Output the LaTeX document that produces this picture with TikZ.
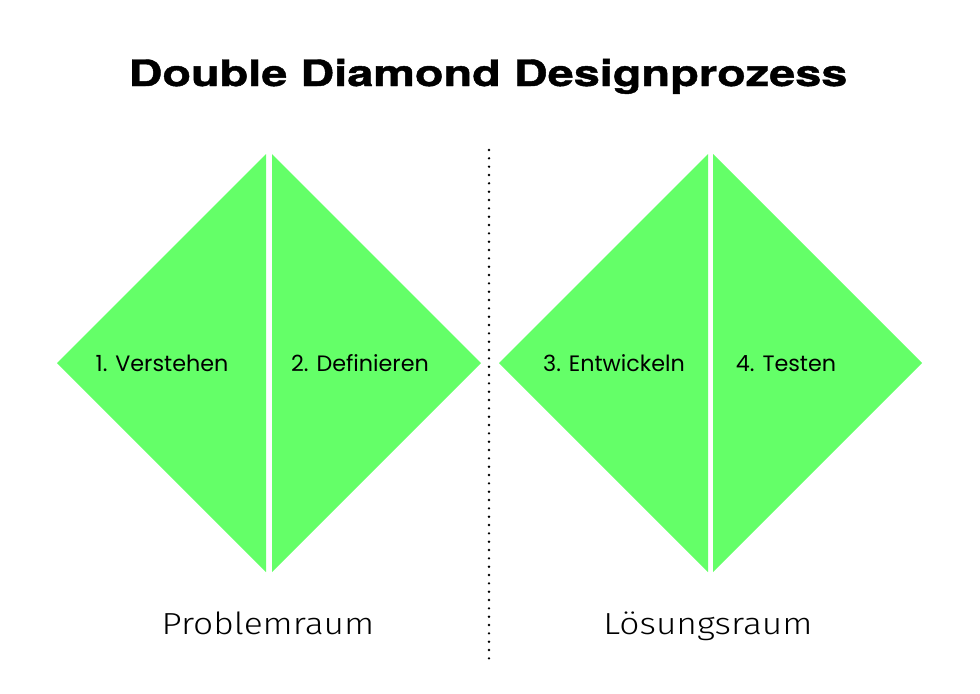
\documentclass[tikz,border=0pt]{standalone}
\usepackage{fontspec}
\usepackage{tikz}
\setmainfont{Poppins}
\newfontfamily\titlefont{TeX Gyre Heros}[FakeStretch=1.29,FakeBold=1.2]
\newfontfamily\lightfont{Fira Sans Light}[FakeStretch=1.16]
\definecolor{leafgreen}{RGB}{100,255,104}

\begin{document}
\begin{tikzpicture}[x=0.03cm,y=-0.03cm,half/.style={fill=leafgreen},phase node/.style={anchor=base,font=\fontsize{19}{22}\selectfont},space node/.style={anchor=base,font=\lightfont\fontsize{26}{30}\selectfont}]
			\useasboundingbox (0,0) rectangle (980,693);
			
			\node[anchor=base,font=\titlefont\bfseries\fontsize{31}{36}\selectfont] (title) at (488,86) {Double Diamond Designprozess};
			
			% the four halves of the two diamonds
			\foreach \x/\d in {266/-1,272/1,708/-1,713/1}
				\fill[half] (\x,154) -- ++(\d*209,209) -- (\x,572) -- cycle;
			
			\node[phase node] (1) at (162,371) {1. Verstehen};
			\node[phase node] (2) at (360,371) {2. Definieren};
			\node[phase node] (3) at (614,371) {3. Entwickeln};
			\node[phase node] (4) at (786,371) {4. Testen};
			
			\coordinate (top) at (489,150);
			\coordinate (bottom) at (489,662);
			\draw[line width=0.08cm,line cap=round,dash pattern=on 0pt off 0.25cm] (top) -- (bottom);
			
			\node[space node] (problem) at (268,634) {Problemraum};
			\node[space node] (solution) at (708,634) {Lösungsraum};
			\end{tikzpicture}
\end{document}
